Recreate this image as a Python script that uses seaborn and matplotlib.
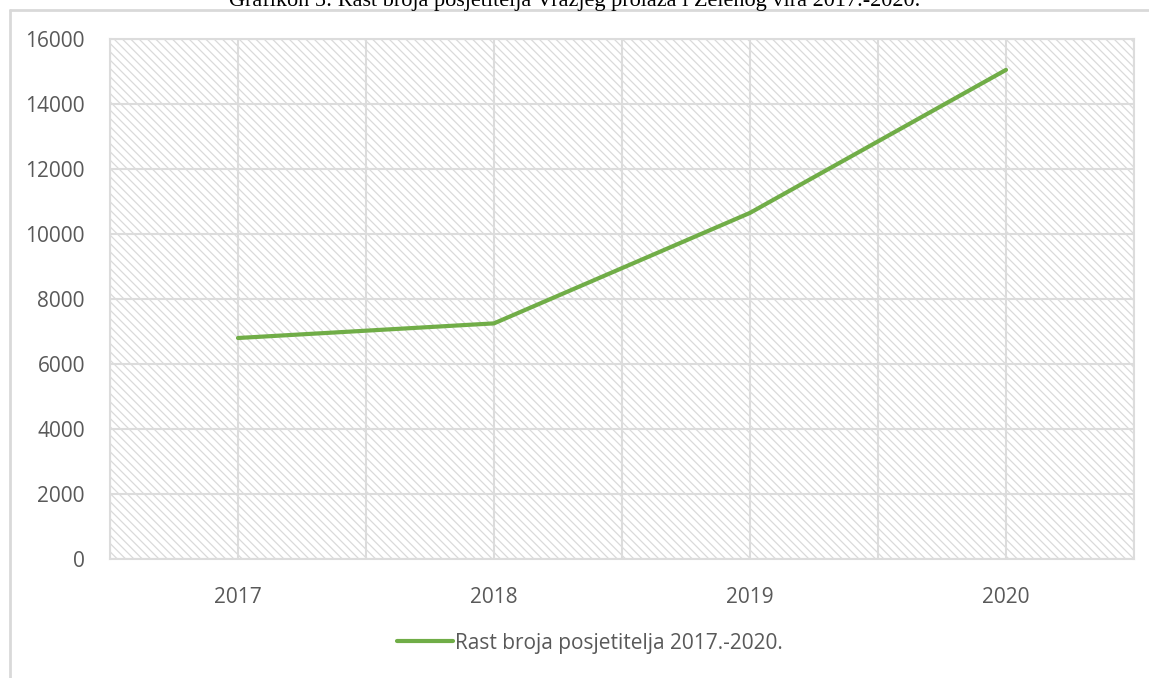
import seaborn as sns
import matplotlib.pyplot as plt
from matplotlib.patches import Rectangle
from matplotlib.lines import Line2D

# Visitor numbers
years = [2017, 2018, 2019, 2020]
visitors = [6800, 7250, 10650, 15050]
y_ticks = [0, 2000, 4000, 6000, 8000, 10000, 12000, 14000, 16000]
series_label = 'Rast broja posjetitelja 2017.-2020.'
title = 'Grafikon 5: Rast broja posjetitelja Vražjeg prolaza i Zelenog vira 2017.-2020.'

sns.set_style('white')
plt.rcParams['font.family'] = ['Open Sans', 'DejaVu Sans']
plt.rcParams['hatch.linewidth'] = 0.9

fig = plt.figure(figsize=(11.49, 6.78), dpi=100)
ax = fig.add_axes([110 / 1149, 1 - 559 / 678, 1024 / 1149, 520 / 678])

# hatched plot area like the Excel original
ax.add_patch(Rectangle((0, 0), 1, 1, transform=ax.transAxes, facecolor='white',
                       edgecolor='#dadada', linewidth=0, hatch='\\\\\\\\', zorder=0.1))

sns.lineplot(x=years, y=visitors, ax=ax, color='#70AD47', linewidth=3,
             solid_capstyle='round', label=series_label, legend=False)

ax.set_xlim(2016.5, 2020.5)
ax.set_ylim(0, 16000)
ax.set_xticks(years)
ax.set_xticks([y - 0.5 for y in years] + [years[-1] + 0.5], minor=True)
ax.set_yticks(y_ticks)
ax.set_axisbelow(True)
ax.grid(True, which='both', color='#dcdcdc', linewidth=1.5)
ax.tick_params(axis='both', which='both', length=0, labelsize=15, colors='#595959')
ax.tick_params(axis='y', pad=18)
ax.tick_params(axis='x', pad=20)
for s in ax.spines.values():
    s.set_color('#dcdcdc')
    s.set_linewidth(1.5)
ax.set_xlabel('')
ax.set_ylabel('')

handles, labels = ax.get_legend_handles_labels()
fig.legend(handles, labels, loc='center', bbox_to_anchor=(590 / 1149, 1 - 643 / 678),
           frameon=False, fontsize=15, handlelength=2.7, handletextpad=0.1,
           labelcolor='#595959')

# clipped caption at the very top and the chart frame
fig.text(575 / 1149, 1 - 6 / 678, title, ha='center', va='baseline',
         fontsize=16, family='Liberation Serif', color='black')
fig.add_artist(Line2D([10 / 1149, 1], [1 - 10 / 678] * 2, color='#d9d9d9', linewidth=2))
fig.add_artist(Line2D([10 / 1149] * 2, [0, 1 - 10 / 678], color='#d9d9d9', linewidth=2))

fig.savefig('out.png', dpi=100, facecolor='white')
